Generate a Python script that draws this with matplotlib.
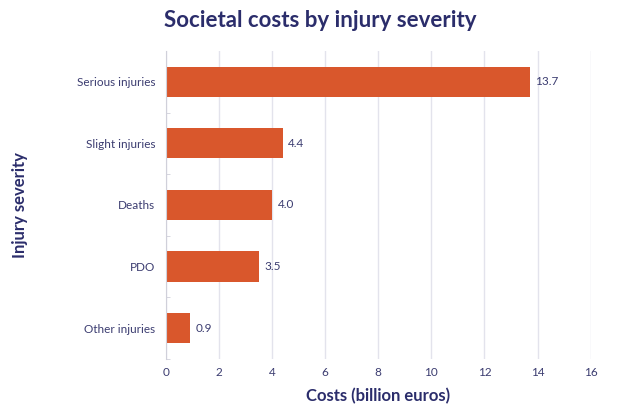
import matplotlib.pyplot as plt
import numpy as np

plt.rcParams["font.family"] = ["Lato", "DejaVu Sans"]

# Data
categories = ["Serious injuries", "Slight injuries", "Deaths", "PDO", "Other injuries"]
costs = [13.7, 4.4, 4.0, 3.5, 0.9]
xticks = [0, 2, 4, 6, 8, 10, 12, 14, 16]

navy = "#2B2D6B"
tick_color = "#3B3C70"
bar_color = "#D9572C"
grid_color = "#E3E3EC"

fig = plt.figure(figsize=(6.4, 4.12), dpi=100)
ax = fig.add_axes([0.259, 0.129, 0.664, 0.747])

y = np.arange(len(categories))
ax.barh(y, costs, height=0.49, color=bar_color, zorder=3)

for yi, v in zip(y, costs):
    ax.annotate(f"{v:.1f}", (v, yi), xytext=(4, 0), textcoords="offset points",
                va="center", ha="left", fontsize=8.5, color=tick_color)

ax.set_xlim(0, 16)
ax.set_ylim(len(categories) - 0.5, -0.5)
ax.set_xticks(xticks)
ax.set_yticks(y)
ax.set_yticklabels(categories)
ax.set_yticks(np.arange(len(categories)) + 0.5, minor=True)

ax.grid(axis="x", color=grid_color, lw=1, zorder=0)
for s in ["top", "right", "bottom"]:
    ax.spines[s].set_visible(False)
ax.spines["left"].set_color("#D0D0DA")
ax.spines["left"].set_zorder(4)

ax.tick_params(axis="x", length=0, pad=6, labelsize=8.5, labelcolor=tick_color)
ax.tick_params(axis="y", which="major", length=0, pad=7.5, labelsize=8.5, labelcolor=tick_color)
ax.tick_params(axis="y", which="minor", direction="in", length=3, color="#D0D0DA")

ax.set_xlabel("Costs (billion euros)", fontsize=12, fontweight="bold", color=navy)
ax.set_ylabel("Injury severity", fontsize=12, fontweight="bold", color=navy)
ax.xaxis.set_label_coords(0.5, -0.095)
ax.yaxis.set_label_coords(-0.325, 0.5)
fig.suptitle("Societal costs by injury severity", fontsize=16, fontweight="bold",
             color=navy, x=0.5, y=0.975)

fig.savefig("out.png", dpi=100)
